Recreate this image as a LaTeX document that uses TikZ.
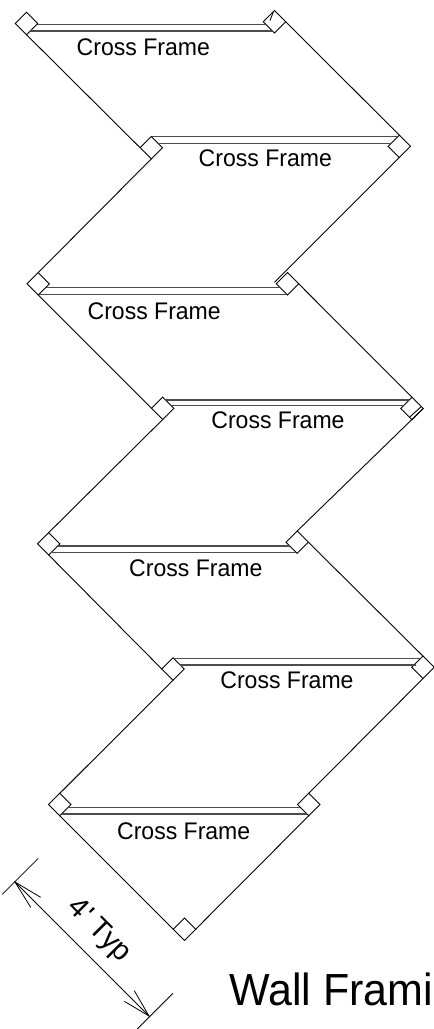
\documentclass[tikz,border=0pt]{standalone}
\usepackage{graphicx}
\usepackage{fontspec}
\setmainfont{Liberation Sans}
\usetikzlibrary{shapes.geometric,calc}
\tikzset{
  post/.style={draw=black,line width=0.9pt,diamond,aspect=1,inner sep=0pt,outer sep=0pt,minimum size=22.4pt},
  wall/.style={draw=black,line width=0.9pt},
  frameline/.style={draw=black!70,line width=1.2pt},
  thin dim/.style={draw=black,line width=0.8pt},
  cflabel/.style={anchor=base,inner sep=0pt,font=\fontsize{24}{24}\selectfont},
}
\newcommand{\cftext}{\scalebox{0.96}[1]{Cross Frame}}
\begin{document}
\begin{tikzpicture}[x=1pt,y=-1pt]
\useasboundingbox (0,0) rectangle (434,1029);
\fill[white] (0,0) rectangle (434,1029);
% posts
\node[post] (pa1) at (26.5,23.5) {};
\node[post] (pb1) at (274.5,21.7) {};
\node[post] (pa2) at (151.3,147.7) {};
\node[post] (pb2) at (399.3,146.3) {};
\node[post] (pa3) at (38.2,283.8) {};
\node[post] (pb3) at (287.5,283.8) {};
\node[post] (pa4) at (162.7,408.3) {};
\node[post] (pb4) at (412,408.5) {};
\node[post] (pa5) at (48.7,543.8) {};
\node[post] (pb5) at (297.2,542.2) {};
\node[post] (pa6) at (173,669) {};
\node[post] (pb6) at (423,667.3) {};
\node[post] (pa7) at (59.8,804.5) {};
\node[post] (pb7) at (308.8,804.5) {};
\node[post] (pc) at (184.5,929.2) {};
% walls
\draw[wall] (pa1.south) -- (pa2.west);
\draw[wall] (pb1.east) -- (pb2.north);
\draw[wall] (pa2.south) -- (pa3.north);
\draw[wall] (pb2.south) -- ($(pb3.west)+(-1.9,-1.5)$);
\draw[wall] (pa3.south) -- (pa4.west);
\draw[wall] (pb3.east) -- (pb4.north);
\draw[wall] (pa4.south) -- (pa5.north);
\draw[wall] (pb4.east) -- (pb5.north);
\draw[wall] (pa5.south) -- (pa6.west);
\draw[wall] (pb5.east) -- (pb6.north);
\draw[wall] (pa6.south) -- (pa7.north);
\draw[wall] (pb6.south) -- (pb7.north);
\draw[wall] (pa7.south) -- (pc.west);
\draw[wall] (pb7.south) -- (pc.east);
% cross frames
\draw[frameline] ($(pa1.center)+(10.4,0.8)$) -- ($(pb1.center)+(-8.6,2.6)$);
\draw[frameline] ($(pa1.center)+(3.7,7.5)$) -- ($(pb1.center)+(-1.9,9.3)$);
\draw[frameline] ($(pa2.center)+(0.3,-11)$) -- ($(pb2.center)+(-1.5,-9.6)$);
\draw[frameline] ($(pa2.center)+(5.9,-4.4)$) -- ($(pb2.center)+(-7.8,-3)$);
\draw[frameline] ($(pa3.center)+(7.3,3.9)$) -- ($(pb3.center)+(-7.3,3.9)$);
\draw[frameline] ($(pa3.center)+(0.7,10.5)$) -- ($(pb3.center)+(-0.7,10.5)$);
\draw[frameline] ($(pa4.center)+(3,-8.3)$) -- ($(pb4.center)+(-3.2,-8.5)$);
\draw[frameline] ($(pa4.center)+(8.6,-2.6)$) -- ($(pb4.center)+(-8.4,-2.8)$);
\draw[frameline] ($(pa5.center)+(9,2.2)$) -- ($(pb5.center)+(-7.4,3.8)$);
\draw[frameline] ($(pa5.center)+(2.7,8.5)$) -- ($(pb5.center)+(-1.1,10.1)$);
\draw[frameline] ($(pa6.center)+(0.5,-10.7)$) -- ($(pb6.center)+(-2,-9)$);
\draw[frameline] ($(pa6.center)+(6.8,-4)$) -- ($(pb6.center)+(-7.5,-2.3)$);
\draw[frameline] ($(pa7.center)+(8.4,3.2)$) -- ($(pb7.center)+(-8.4,3.2)$);
\draw[frameline] ($(pa7.center)+(2.1,9.5)$) -- ($(pb7.center)+(-2.1,9.5)$);
% small extra strokes inside posts
\draw[wall] ($(pb4.south)+(-2,-2.9)$) -- ($(pb4.east)+(-2.2,-1.7)$);
\draw[wall] ($(pb1.north)+(-1.2,1.5)$) -- ($(pb1.north)+(-4.5,10)$);
% labels
\node[cflabel] (t1) at (143.3,55) {\cftext};
\node[cflabel] (t2) at (265.3,166) {\cftext};
\node[cflabel] (t3) at (154.2,319.3) {\cftext};
\node[cflabel] (t4) at (278,428.3) {\cftext};
\node[cflabel] (t5) at (195.8,576) {\cftext};
\node[cflabel] (t6) at (287,688.3) {\cftext};
\node[cflabel] (t7) at (183.7,839.3) {\cftext};
% dimension
\coordinate (e1a) at (38.3,858.3);
\coordinate (e1b) at (2.3,894.3);
\coordinate (e2a) at (173,993.3);
\coordinate (e2b) at (137.3,1029);
\coordinate (d1) at (15,882);
\coordinate (d2) at (149,1016);
\coordinate (h1a) at (40.7,897.3);
\coordinate (h1b) at (30.7,907.3);
\coordinate (h2a) at (134.3,990.7);
\coordinate (h2b) at (124.3,1001.3);
\draw[thin dim] (e1a) -- (e1b);
\draw[thin dim] (e2a) -- (e2b);
\draw[thin dim] (d1) -- (d2);
\draw[thin dim] (h1a) -- (d1) -- (h1b);
\draw[thin dim] (h2a) -- (d2) -- (h2b);
\node[inner sep=0pt,rotate=-45,font=\fontsize{29}{29}\selectfont] (dimtext) at (98.6,931) {4\textquotesingle\ Typ};
\node[anchor=base west,inner sep=0pt,font=\fontsize{45}{45}\selectfont] (title) at (229,1005) {\scalebox{0.955}[1]{Wall Frami}};
\end{tikzpicture}
\end{document}
